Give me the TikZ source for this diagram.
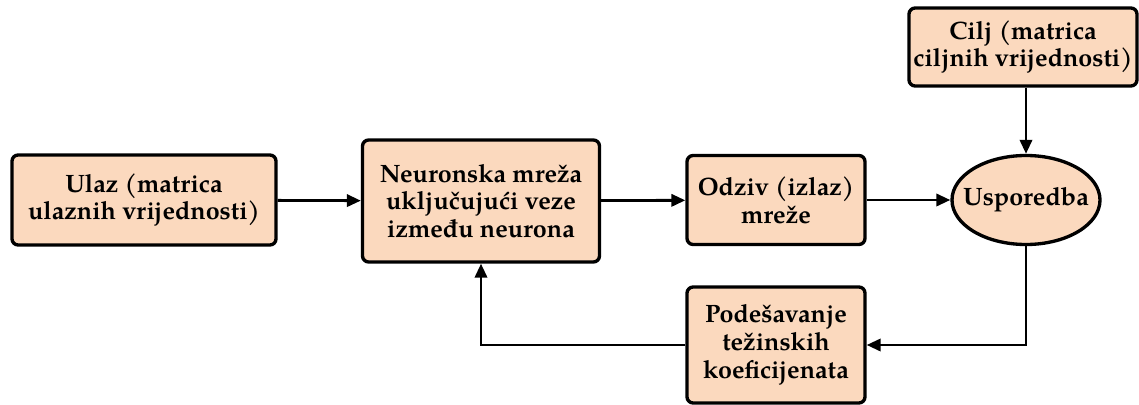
\documentclass[tikz,border=0pt]{standalone}
\usepackage{fontspec}
\setmainfont{TeX Gyre Pagella}
\usepackage{tikz}
\usetikzlibrary{shapes.geometric, arrows}
\usetikzlibrary{positioning}
\usepackage{xcolor}
\usetikzlibrary{arrows.meta}

\definecolor{peach}{RGB}{251,217,190}

\begin{document}
\begin{tikzpicture}[x=0.02cm, y=-0.02cm, >={Triangle[length=8pt, width=7pt]},
  every block/.style={draw, line width=1.9pt, rounded corners=3.5pt, fill=peach,
    align=center, font=\bfseries\fontsize{14.3}{15.8}\selectfont, inner sep=0pt},
  every oval/.style={draw, line width=1.9pt, ellipse, fill=peach,
    align=center, font=\bfseries\fontsize{14.3}{15.8}\selectfont, inner sep=0pt},
  link/.style={->, line width=1.6pt}]

\useasboundingbox (0,0) rectangle (1139,405);

\node [every block, minimum width=264*0.02cm, minimum height=90*0.02cm] (ulaz) at (144,200)
  {Ulaz (matrica\\ulaznih vrijednosti)};
\node [every block, minimum width=237*0.02cm, minimum height=122*0.02cm] (mreza) at (481,201)
  {Neuronska mreža\\uključujući veze\\između neurona};
\node [every block, minimum width=178*0.02cm, minimum height=89*0.02cm] (odziv) at (776,200)
  {Odziv (izlaz)\\mreže};
\node [every oval, minimum width=148*0.02cm, minimum height=89*0.02cm] (usporedba) at (1026,200)
  {\makebox[0pt]{Usporedba}};
\node [every block, minimum width=228*0.02cm, minimum height=78*0.02cm] (cilj) at (1023,47)
  {Cilj (matrica\\ciljnih vrijednosti)};
\node [every block, minimum width=178*0.02cm, minimum height=116*0.02cm] (podesavanje) at (776,345)
  {Podešavanje\\težinskih\\koeficijenata};

\draw [link] (ulaz) -- (mreza);
\draw [link] (mreza) -- (odziv);
\draw [link] (odziv) -- (usporedba);
\draw [link] (cilj.south -| usporedba.north) -- (usporedba);
\draw [link] (usporedba.south) |- (podesavanje.east);
\draw [link] (podesavanje.west) -| (mreza.south);

\end{tikzpicture}
\end{document}
